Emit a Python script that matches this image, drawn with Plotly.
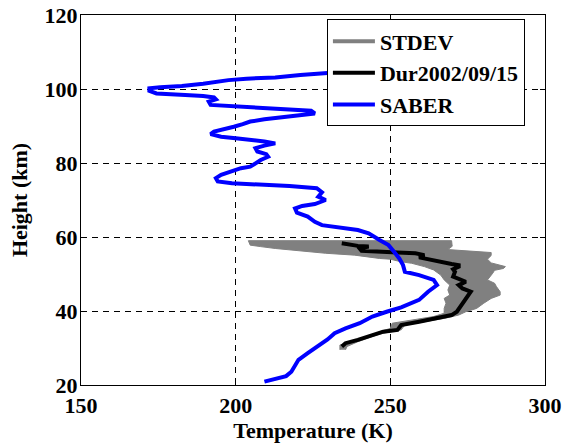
import plotly.graph_objects as go

# SABER profile
saber_T = [209.3, 216.3, 218.0, 219.2, 220.3, 223.3, 226.7, 229.7, 232.0, 235.5, 240.1, 244.2, 248.8,
           253.5, 259.3, 262.2, 265.1, 264.0, 259.3, 254.7, 254.1, 252.9, 251.2, 249.4, 246.5, 243.0,
           239.5, 236.0, 232.0, 227.9, 225.6, 223.3, 219.8, 219.2, 221.5, 225.6, 229.1, 226.7, 227.9,
           226.2, 217.4, 205.8, 198.8, 194.2, 193.6, 195.3, 198.8, 201.7, 204.7, 206.4, 208.1, 210.5,
           209.9, 207.0, 206.4, 209.3, 212.8, 209.3, 205.8, 200.0, 195.3, 191.9, 193.0, 196.5, 199.4,
           202.3, 204.7, 209.3, 215.1, 221.5, 225.6, 224.4, 217.4, 208.1, 197.7, 191.9, 191.3, 193.6,
           193.0, 189.5, 183.7, 177.9, 174.4, 172.1, 172.1, 175.6, 182.6, 189.5, 194.2, 197.7, 203.5,
           212.8, 220.9, 228.8, 240.7]
saber_H = [20.9, 22.4, 23.6, 25.4, 26.8, 28.6, 30.4, 32.3, 34.0, 35.3, 36.7, 38.5, 39.8,
           41.0, 43.0, 45.2, 47.0, 48.4, 49.7, 50.6, 52.4, 54.2, 56.0, 57.8, 59.2, 61.0,
           61.9, 62.3, 62.8, 63.2, 64.1, 65.5, 66.6, 67.7, 68.4, 68.9, 70.0, 70.9, 72.1,
           73.2, 73.8, 74.3, 74.5, 75.0, 75.9, 76.8, 77.7, 78.6, 79.0, 79.9, 80.8, 81.7,
           82.4, 83.1, 84.0, 84.7, 85.3, 85.8, 86.2, 86.7, 87.1, 87.8, 88.5, 89.1, 89.8,
           90.5, 91.2, 91.8, 92.3, 92.8, 93.4, 94.1, 94.5, 95.0, 95.4, 95.7, 96.6, 97.2,
           97.7, 98.1, 98.4, 98.6, 98.8, 99.5, 100.2, 100.5, 100.8, 101.4, 102.0, 102.4, 102.8,
           103.1, 103.8, 104.2, 105.0]

# Durban lidar profile 2002/09/15
dur_T = [234.3, 235.5, 239.5, 244.2, 247.7, 252.3, 253.5, 259.3, 265.1, 269.8, 271.5, 272.7, 273.8,
         275.0, 275.6, 276.0, 273.3, 272.1, 274.4, 272.1, 270.3, 270.9, 270.3, 272.1, 272.1, 269.8,
         266.3, 261.6, 259.3, 261.0, 258.1, 252.3, 246.5, 240.7, 240.1, 243.0, 239.5, 237.2, 234.3]
dur_H = [30.4, 31.3, 32.2, 33.5, 34.4, 34.9, 36.2, 37.1, 38.0, 38.9, 39.8, 41.2, 42.5,
         43.6, 44.6, 45.2, 46.1, 47.0, 47.9, 48.8, 49.3, 50.6, 51.3, 52.0, 52.4, 52.7,
         53.3, 54.0, 54.5, 55.1, 55.6, 55.8, 56.0, 56.3, 56.9, 57.4, 57.6, 57.8, 58.3]

# STDEV envelope: lower (left) and upper (right) edges
low_T = [233.7, 233.7, 238.4, 243.0, 246.5, 250.0, 250.6, 255.8, 264.0, 267.4, 267.4, 268.0, 267.4,
         269.2, 268.6, 269.2, 267.4, 266.3, 264.0, 261.0, 256.9, 253.5, 250.0, 246.5, 240.7, 238.4,
         229.1, 223.3, 217.4, 212.8, 208.1, 204.7, 204.1]
low_H = [29.5, 30.8, 31.7, 33.1, 34.4, 35.3, 36.7, 37.4, 38.5, 39.4, 40.7, 42.1, 43.4,
         44.3, 45.7, 47.0, 48.4, 49.7, 51.1, 52.0, 52.9, 53.3, 54.0, 54.2, 54.7, 55.1,
         55.6, 56.0, 56.5, 56.9, 57.4, 57.8, 59.0]
up_T = [235.5, 236.0, 239.5, 244.2, 247.7, 253.5, 254.7, 260.5, 267.4, 272.1, 274.4, 277.9, 280.2,
        282.6, 285.5, 285.5, 284.3, 283.7, 281.4, 283.1, 283.7, 286.6, 287.2, 282.6, 281.4, 282.6,
        282.6, 268.6, 270.0, 269.8]
up_H = [29.5, 30.4, 31.7, 33.1, 34.0, 34.9, 36.2, 37.1, 38.0, 38.9, 39.8, 40.7, 42.1,
        43.4, 44.3, 45.2, 46.6, 47.5, 48.4, 50.2, 51.0, 51.5, 52.0, 53.0, 54.0, 55.0,
        55.8, 56.6, 57.5, 59.0]

x_ticks = [150, 200, 250, 300]
y_ticks = [20, 40, 60, 80, 100, 120]

FF = "Liberation Serif"
FS = 22
band_x = low_T + up_T[::-1]
band_y = low_H + up_H[::-1]

fig = go.Figure()
fig.add_trace(go.Scatter(x=band_x, y=band_y, fill="toself", fillcolor="rgb(128,128,128)",
                         line=dict(color="rgb(128,128,128)", width=1), mode="lines",
                         showlegend=False, hoverinfo="skip"))
fig.add_trace(go.Scatter(x=[None], y=[None], mode="lines", name="STDEV",
                         line=dict(color="rgb(128,128,128)", width=4)))
fig.add_trace(go.Scatter(x=dur_T, y=dur_H, mode="lines", name="Dur2002/09/15",
                         line=dict(color="black", width=4)))
fig.add_trace(go.Scatter(x=saber_T, y=saber_H, mode="lines", name="SABER",
                         line=dict(color="blue", width=4)))

bold_font = dict(family=FF, size=FS, color="black", weight="bold")
axis_common = dict(showline=True, linecolor="black", linewidth=1, mirror="allticks",
                   ticks="inside", ticklen=5, tickcolor="black",
                   showgrid=True, gridcolor="black", gridwidth=1, griddash="6px,5px",
                   zeroline=False, tickfont=bold_font, automargin=False,
                   ticklabeloverflow="allow")

fig.update_xaxes(range=[150, 300], tickvals=x_ticks, ticktext=[str(v) for v in x_ticks],
                 title=dict(text="Temperature (K)", standoff=0, font=bold_font),
                 ticklabelstandoff=1, **axis_common)
fig.update_yaxes(range=[20, 120], tickvals=y_ticks, ticktext=[str(v) for v in y_ticks],
                 title=dict(text="Height (km)", standoff=10, font=bold_font),
                 ticklabelstandoff=-2, **axis_common)

fig.update_layout(
    width=565, height=443,
    margin=dict(l=81, r=20, t=15, b=58, autoexpand=False),
    plot_bgcolor="white", paper_bgcolor="white",
    font=bold_font,
    showlegend=True,
    legend=dict(x=0.530, y=0.988, xanchor="left", yanchor="top",
                bgcolor="white", bordercolor="black", borderwidth=1,
                itemwidth=42, traceorder="normal", font=bold_font),
)

# remove the browser's default 8px body margin so the figure sits at the page origin
fig.write_html("out.html", config={"displayModeBar": False},
               post_script="document.body.style.margin='0px';")
